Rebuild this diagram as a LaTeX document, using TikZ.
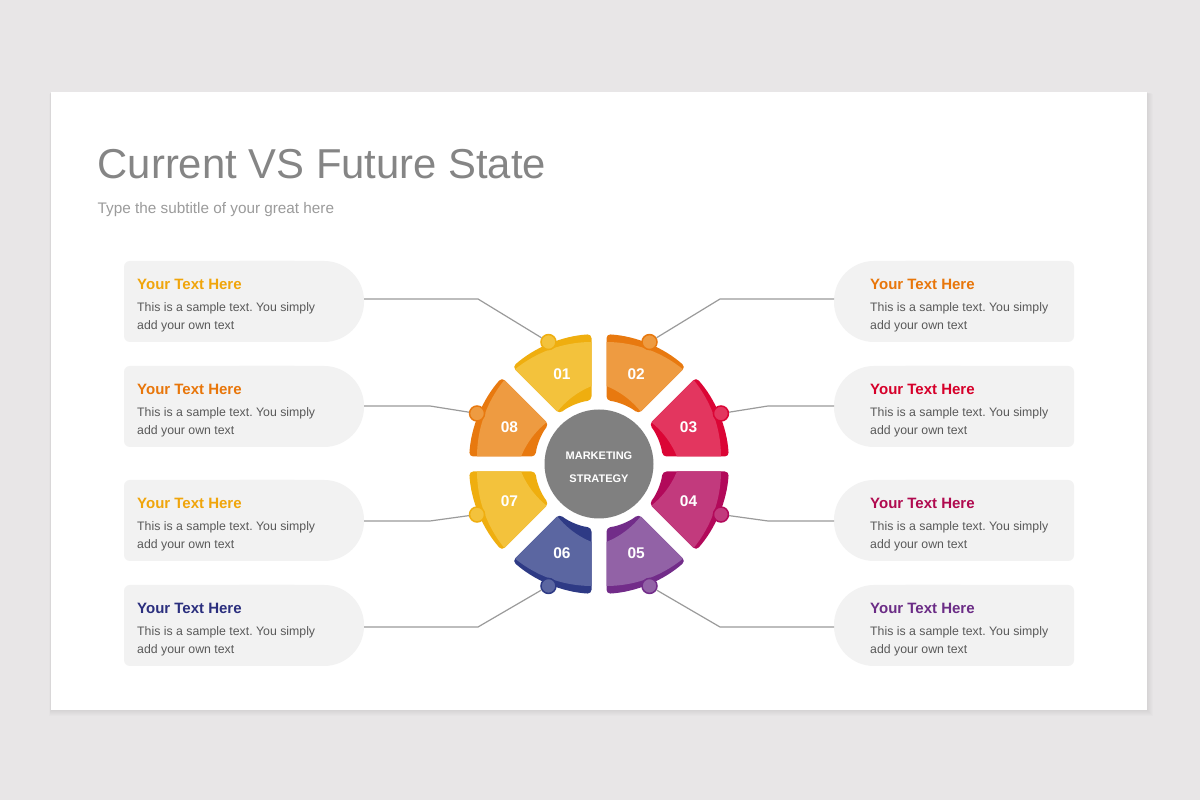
\documentclass[tikz,border=0pt]{standalone}
\usepackage{fontspec}
\setmainfont{Liberation Sans}
\usetikzlibrary{calc}
\frenchspacing
\definecolor{bg}{HTML}{E8E6E7}
\definecolor{boxfill}{HTML}{F2F2F2}
\definecolor{titlegray}{HTML}{858585}
\definecolor{subgray}{HTML}{9B9B9B}
\definecolor{bodygray}{HTML}{595959}
\definecolor{conngray}{HTML}{9B9B9B}
\definecolor{cgray}{HTML}{808080}
\definecolor{s1d}{HTML}{EFAE0F}\definecolor{s1l}{HTML}{F3C23C}
\definecolor{s2d}{HTML}{E8790F}\definecolor{s2l}{HTML}{EE9B41}
\definecolor{s3d}{HTML}{DB0535}\definecolor{s3l}{HTML}{E3365F}
\definecolor{s4d}{HTML}{B2095A}\definecolor{s4l}{HTML}{C23A7D}
\definecolor{s5d}{HTML}{722C89}\definecolor{s5l}{HTML}{9262A6}
\definecolor{s6d}{HTML}{2E3A85}\definecolor{s6l}{HTML}{5B66A1}
\definecolor{s7d}{HTML}{EFAE0F}\definecolor{s7l}{HTML}{F3C23C}
\definecolor{s8d}{HTML}{E8790F}\definecolor{s8l}{HTML}{EE9B41}
\definecolor{tA}{HTML}{F0A50B}
\definecolor{tO}{HTML}{E8760A}
\definecolor{tN}{HTML}{2B2F7E}
\definecolor{tR}{HTML}{D6002A}
\definecolor{tM}{HTML}{B00A4F}
\definecolor{tP}{HTML}{6B2C86}
\begin{document}
\begin{tikzpicture}[x=1pt,y=1pt,
  ttl/.style={anchor=base west, inner sep=0, font=\bfseries\fontsize{15}{18}\selectfont},
  body/.style={anchor=base west, inner sep=0, text=bodygray, font=\fontsize{12.3}{15}\selectfont},
  knob/.style={circle, line width=1.5pt, minimum size=15pt, inner sep=0},
  num/.style={text=white, inner sep=0, font=\bfseries\fontsize{15.5}{18}\selectfont},
  ctext/.style={anchor=base, text=white, inner sep=0, font=\bfseries\fontsize{11}{13}\selectfont},
  conn/.style={draw=conngray, line width=1.2pt}]
\useasboundingbox (0,0) rectangle (1200,800);
\fill[bg] (0,0) rectangle (1200,800);
% card shadow
\foreach \i in {1,...,6}{\fill[black, opacity=0.012] (51-0.3*\i, 90-\i) rectangle (1147+\i, 708-0.3*\i);}
\fill[white] (51,90) rectangle (1147,708);
% titles
\node[anchor=base west, inner sep=0, text=titlegray, font=\fontsize{41.8}{50}\selectfont] (title) at (97.5,621.5) {Current VS Future State};
\node[anchor=base west, inner sep=0, text=subgray, font=\fontsize{15.3}{18}\selectfont] (subtitle) at (97.5,586.5) {Type the subtitle of your great here};
% left boxes
\foreach \t/\c/\n in {261/tA/1, 366/tO/2, 480/tA/3, 585/tN/4}{
  \fill[boxfill, rounded corners=6pt] (124,800-\t-81) rectangle (300,800-\t);
  \fill[boxfill, rounded corners=40pt] (200,800-\t-81) rectangle (364,800-\t);
  \node[ttl, text=\c] (lt\n) at (137,800-\t-28.5) {Your Text Here};
  \node[body] (lb\n a) at (137,800-\t-50.5) {This is a sample text. You simply};
  \node[body] (lb\n b) at (137,800-\t-68.5) {add your own text};
}
% right boxes
\foreach \t/\c/\n in {261/tO/1, 366/tR/2, 480/tM/3, 585/tP/4}{
  \fill[boxfill, rounded corners=40pt] (834,800-\t-81) rectangle (1000,800-\t);
  \fill[boxfill, rounded corners=6pt] (900,800-\t-81) rectangle (1074,800-\t);
  \node[ttl, text=\c] (rt\n) at (870,800-\t-28.5) {Your Text Here};
  \node[body] (rb\n a) at (870,800-\t-50.5) {This is a sample text. You simply};
  \node[body] (rb\n b) at (870,800-\t-68.5) {add your own text};
}
% centre
\coordinate (O) at (599,336);
\node[circle, fill=cgray, minimum size=109pt, inner sep=0] (C) at (O) {};
\node[ctext] (m1) at (599,340) {MARKETING};
\node[ctext] (m2) at (599,317) {STRATEGY};
% segments
\foreach \a/\A/\D/\dk/\lt/\lab in {90/90/135/s1d/s1l/01,45/90/45/s2d/s2l/02,0/0/45/s3d/s3l/03,-45/0/-45/s4d/s4l/04,-90/-90/-45/s5d/s5l/05,-135/-90/-135/s6d/s6l/06,180/180/225/s7d/s7l/07,135/180/135/s8d/s8l/08}{
  \pgfmathsetmacro\din{3*(\A)-2*(\D)}
  \pgfmathsetmacro\dout{2*(\D)-(\A)}
  \fill[\dk, rounded corners=4pt] ($(O)+(\a+3.307:130)$) arc[start angle=\a+3.307, end angle=\a+41.693, radius=130] -- ($(O)+(\a+38.27:64)$) arc[start angle=\a+38.27, end angle=\a+6.73, radius=64] -- cycle;
  \begin{scope}
    \clip[rounded corners=4pt] ($(O)+(\a+3.307:130)$) arc[start angle=\a+3.307, end angle=\a+41.693, radius=130] -- ($(O)+(\a+38.27:64)$) arc[start angle=\a+38.27, end angle=\a+6.73, radius=64] -- cycle;
    \fill[\lt, even odd rule] ($(O)+(\dout:7)$) circle[radius=122] ($(O)+(\din:24)$) circle[radius=84];
  \end{scope}
  \node[knob, fill=\lt, draw=\dk] (k\lab) at ($(O)+(\a+22.5:132)$) {};
  \node[num] (n\lab) at ($(O)+(\a+22.5:97)$) {\lab};
}
% connector points
\coordinate (bL1) at (364,501); \coordinate (jL1) at (478,501);
\coordinate (bL2) at (364,394); \coordinate (jL2) at (430,394);
\coordinate (bL3) at (364,279); \coordinate (jL3) at (430,279);
\coordinate (bL4) at (364,173); \coordinate (jL4) at (478,173);
\coordinate (bR1) at (834,501); \coordinate (jR1) at (720,501);
\coordinate (bR2) at (834,394); \coordinate (jR2) at (768,394);
\coordinate (bR3) at (834,279); \coordinate (jR3) at (768,279);
\coordinate (bR4) at (834,173); \coordinate (jR4) at (720,173);
\draw[conn] (bL1) -- (jL1) -- (k01);
\draw[conn] (bL2) -- (jL2) -- (k08);
\draw[conn] (bL3) -- (jL3) -- (k07);
\draw[conn] (bL4) -- (jL4) -- (k06);
\draw[conn] (bR1) -- (jR1) -- (k02);
\draw[conn] (bR2) -- (jR2) -- (k03);
\draw[conn] (bR3) -- (jR3) -- (k04);
\draw[conn] (bR4) -- (jR4) -- (k05);
\end{tikzpicture}
\end{document}
